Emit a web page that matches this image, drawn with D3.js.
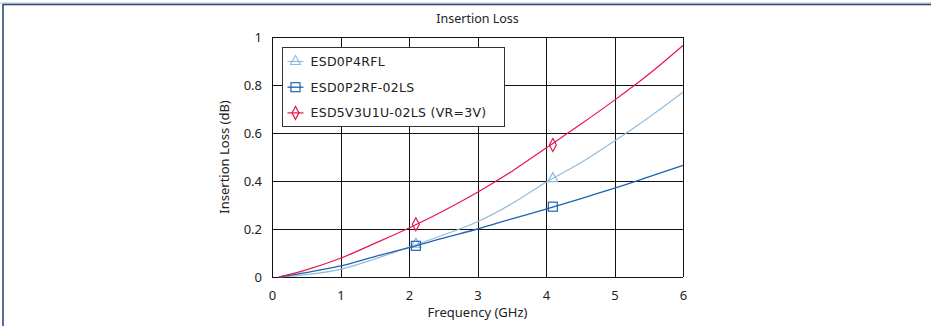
<!DOCTYPE html>
<html>
<head>
<meta charset="utf-8">
<script src="https://cdn.jsdelivr.net/npm/d3@7"></script>
<style>
  body { margin: 0; background: #fff; }
  text { font-family: "Noto Sans", sans-serif; fill: #222; }
</style>
</head>
<body>
<div id="chart"></div>
<script>
// series data (frequency in GHz, insertion loss in dB)
const freqRed = [0.1, 0.5, 1, 1.5, 2, 2.5, 3, 3.5, 4, 4.5, 5, 5.5, 6];
const lossRed = [0, 0.03, 0.078, 0.14, 0.204, 0.275, 0.353, 0.44, 0.537, 0.635, 0.737, 0.845, 0.965];
const freqLight = [0.1, 0.5, 1, 1.5, 2, 2.5, 3, 3.5, 4, 4.5, 5, 5.5, 6];
const lossLight = [0, 0.01, 0.032, 0.075, 0.125, 0.175, 0.23, 0.305, 0.395, 0.475, 0.567, 0.665, 0.77];
const freqDark = [0.1, 0.5, 1, 1.5, 2, 2.5, 3, 3.5, 4, 4.5, 5, 5.5, 6];
const lossDark = [0, 0.018, 0.046, 0.085, 0.122, 0.162, 0.2, 0.242, 0.283, 0.326, 0.37, 0.417, 0.465];

// marker points
const markRedX = [2.1, 4.1], markRedY = [0.22, 0.55];
const markLightX = [2.1, 4.1], markLightY = [0.137, 0.41];
const markDarkX = [2.1, 4.1], markDarkY = [0.13, 0.293];

const legendNames = ['ESD0P4RFL', 'ESD0P2RF-02LS', 'ESD5V3U1U-02LS (VR=3V)'];
const xTicks = [0, 1, 2, 3, 4, 5, 6];
const yTicks = [0, 0.2, 0.4, 0.6, 0.8, 1];

const W = 931, H = 326;
const margin = {top: 37, right: 248, bottom: 49, left: 272},
    width = W - margin.left - margin.right,
    height = H - margin.top - margin.bottom;

const svg = d3.select('#chart').append('svg')
    .attr('width', W)
    .attr('height', H);

// outer frame
svg.append('line')
    .attr('x1', 0).attr('x2', W).attr('y1', 3).attr('y2', 3)
    .style('stroke', '#b9c2cc').style('stroke-width', 1);
svg.append('rect')
    .attr('x', 3).attr('y', 4.5).attr('width', W + 10).attr('height', H + 10)
    .style('fill', 'none').style('stroke', '#2d4c78').style('stroke-width', 1.6);

const g = svg.append('g')
    .attr('transform', `translate(${margin.left},${margin.top})`);

const x = d3.scaleLinear().domain([0, 6]).range([0, width]);
const y = d3.scaleLinear().domain([0, 1]).range([height, 0]);

// grid
g.selectAll('.vgrid').data(xTicks).enter().append('line')
    .attr('x1', d => Math.round(x(d)) + 0.5).attr('x2', d => Math.round(x(d)) + 0.5)
    .attr('y1', 0).attr('y2', height)
    .style('stroke', '#111').style('stroke-width', 1);
g.selectAll('.hgrid').data(yTicks).enter().append('line')
    .attr('x1', 0).attr('x2', width)
    .attr('y1', d => Math.round(y(d)) + 0.5).attr('y2', d => Math.round(y(d)) + 0.5)
    .style('stroke', '#111').style('stroke-width', 1);

// axes (labels only)
const xAxis = g.append('g')
    .attr('transform', `translate(0,${height})`)
    .call(d3.axisBottom(x).tickValues(xTicks).tickSize(0).tickPadding(14).tickFormat(d3.format('')));
const yAxis = g.append('g')
    .call(d3.axisLeft(y).tickValues(yTicks).tickSize(0).tickPadding(10).tickFormat(d => d === 0 || d === 1 ? d : d3.format('.1f')(d)));
[xAxis, yAxis].forEach(a => {
    a.select('.domain').remove();
    a.selectAll('text').style('font-family', '"Noto Sans", sans-serif').style('font-size', '13px').style('fill', '#222');
});

// lines
const line = d3.line()
    .x(d => x(d[0]))
    .y(d => y(d[1]))
    .curve(d3.curveMonotoneX);

const series = [
    {fx: freqLight, ly: lossLight, mx: markLightX, my: markLightY, color: '#93bcdc', shape: 'tri', w: 1.2},
    {fx: freqDark, ly: lossDark, mx: markDarkX, my: markDarkY, color: '#1f63ae', shape: 'sq', w: 1.3},
    {fx: freqRed, ly: lossRed, mx: markRedX, my: markRedY, color: '#e8164c', shape: 'dia', w: 1.2}
];

function marker(sel, shape, color) {
    if (shape === 'tri') {
        sel.append('path').attr('d', 'M0,-6L5,3L-5,3Z');
    } else if (shape === 'sq') {
        sel.append('rect').attr('x', -4.5).attr('y', -4.5).attr('width', 9).attr('height', 9);
    } else {
        sel.append('path').attr('d', 'M0,-6.5L3.5,0L0,6.5L-3.5,0Z');
    }
    sel.selectAll('*').style('fill', 'none').style('stroke', color).style('stroke-width', 1.2);
}

series.forEach(s => {
    g.append('path')
        .attr('d', line(s.fx.map((f, i) => [f, s.ly[i]])))
        .style('fill', 'none')
        .style('stroke', s.color)
        .style('stroke-width', s.w);
    s.mx.forEach((mxv, i) => {
        const m = g.append('g').attr('transform', `translate(${x(mxv)},${y(s.my[i])})`);
        marker(m, s.shape, s.color);
    });
});

// legend
const leg = svg.append('g').attr('transform', 'translate(282.5,47.5)');
leg.append('rect')
    .attr('width', 222).attr('height', 79)
    .style('fill', '#fff').style('stroke', '#333').style('stroke-width', 1);
series.forEach((s, i) => {
    const ly = 14 + i * 25.7;
    leg.append('line')
        .attr('x1', 5).attr('x2', 21).attr('y1', ly).attr('y2', ly)
        .style('stroke', s.color).style('stroke-width', s.w);
    marker(leg.append('g').attr('transform', `translate(13,${ly})`), s.shape, s.color);
    leg.append('text')
        .attr('x', 28).attr('y', ly)
        .attr('dy', '0.35em')
        .style('font-family', '"DejaVu Sans", sans-serif')
        .style('font-size', '12.5px')
        .style('letter-spacing', '0.3px')
        .text(legendNames[i]);
});

// title and axis labels
svg.append('text')
    .attr('x', margin.left + width / 2).attr('y', 23)
    .attr('text-anchor', 'middle')
    .style('font-size', '12.5px')
    .text('Insertion Loss');
svg.append('text')
    .attr('x', margin.left + width / 2).attr('y', 317)
    .attr('text-anchor', 'middle')
    .style('font-size', '13px')
    .text('Frequency (GHz)');
svg.append('text')
    .attr('transform', `translate(229,${margin.top + height / 2}) rotate(-90)`)
    .attr('text-anchor', 'middle')
    .style('font-size', '13px')
    .text('Insertion Loss (dB)');
</script>
</body>
</html>
